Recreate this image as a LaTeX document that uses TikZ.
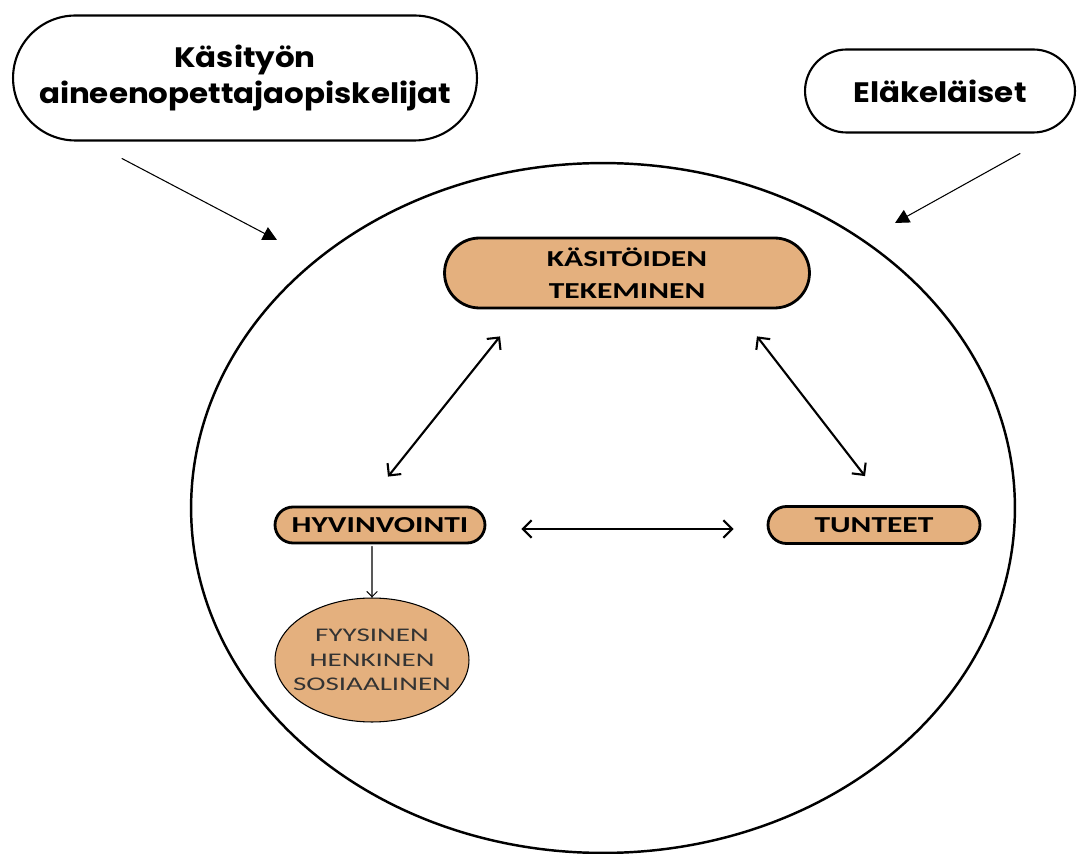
\documentclass[tikz,border=0pt]{standalone}
\usepackage{fontspec}
\setmainfont{Carlito}
\newfontfamily\headfont{Poppins}[FakeStretch=1.1]
\newfontfamily\boxfont{Carlito}[FakeStretch=1.38]
\newfontfamily\listfont{Carlito}[FakeStretch=1.5]
\usetikzlibrary{arrows.meta,shapes.misc,shapes.geometric}
\definecolor{boxtan}{RGB}{228,176,126}
\tikzset{
  outer/.style={draw, line width=1.2pt, rounded rectangle, align=center, inner sep=0pt,
    font=\headfont\bfseries\fontsize{16}{20}\selectfont},
  item/.style={draw, line width=1.6pt, fill=boxtan, rounded rectangle, align=center, inner sep=0pt,
    font=\boxfont\bfseries\fontsize{13}{18.5}\selectfont},
  link/.style={{Straight Barb[length=5pt,width=10pt]}-{Straight Barb[length=5pt,width=10pt]}, line width=1.2pt},
  feed/.style={-{Triangle[length=8pt,width=8pt]}, line width=0.6pt},
  down/.style={-{Straight Barb[length=3pt,width=6pt]}, line width=0.6pt}
}
\begin{document}
\begin{tikzpicture}[x=0.02cm, y=-0.02cm, line join=round, line cap=round]
  \useasboundingbox (0,0) rectangle (1078,854);
  % the circle round the whole process
  \node[draw, ellipse, line width=1.4pt, minimum width=16.48cm, minimum height=13.8cm] (group) at (603,508) {};
  \node[outer, minimum width=9.28cm, minimum height=2.5cm] (students) at (245,78) {Käsityön\\aineenopettajaopiskelijat};
  \node[outer, minimum width=5.4cm, minimum height=1.66cm] (retired) at (940,91) {Eläkeläiset};
  \coordinate (inA) at (277,240);
  \coordinate (inB) at (895,223);
  \draw[feed] ([xshift=-2.46cm,yshift=-0.34cm]students.south) -- (inA);
  \draw[feed] ([xshift=1.6cm,yshift=-0.4cm]retired.south) -- (inB);
  % inner nodes
  \node[item, minimum width=7.3cm, minimum height=1.4cm] (craft) at (627,273) {KÄSITÖIDEN\\TEKEMINEN};
  \node[item, minimum width=4.2cm, minimum height=0.72cm] (wellbeing) at (380,525) {HYVINVOINTI};
  \node[item, minimum width=4.24cm, minimum height=0.74cm] (feelings) at (874,525) {TUNTEET};
  \node[draw, ellipse, fill=boxtan, line width=0.6pt, minimum width=3.88cm, minimum height=2.48cm,
    align=center, text=black!80, inner xsep=-20pt, inner ysep=-10pt,
    font=\listfont\fontsize{11}{14}\selectfont] (aspects) at (372,660)
    {FYYSINEN\\HENKINEN\\SOSIAALINEN};
  \draw[link] ([xshift=-2.54cm,yshift=-0.54cm]craft.south) -- ([xshift=0.16cm,yshift=0.58cm]wellbeing.north);
  \draw[link] ([xshift=2.6cm,yshift=-0.54cm]craft.south) -- ([xshift=-0.18cm,yshift=0.58cm]feelings.north);
  \draw[link] ([xshift=0.7cm,yshift=-0.08cm]wellbeing.east) -- ([xshift=-0.66cm,yshift=-0.08cm]feelings.west);
  \draw[down] ([xshift=-0.16cm,yshift=-0.04cm]wellbeing.south) -- (aspects.north);
\end{tikzpicture}
\end{document}
